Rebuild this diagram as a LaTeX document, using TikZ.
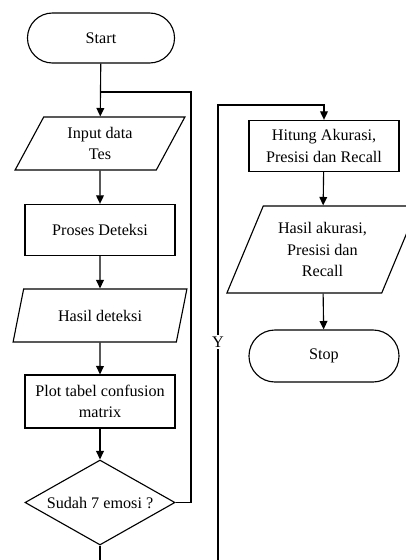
\documentclass[tikz,border=0pt]{standalone}
\usepackage{fontspec}
\setmainfont{Liberation Serif}
\usetikzlibrary{shapes.geometric,shapes.misc,arrows.meta}
\tikzset{
	terminal/.style={draw,rounded rectangle,minimum width=3.675cm,minimum height=1.25cm,inner sep=0pt},
	proses/.style={draw,rectangle,minimum width=3.75cm,minimum height=1.28cm,align=center,inner sep=0pt},
	io/.style={draw,trapezium,trapezium left angle=63,trapezium right angle=117,trapezium stretches=true,align=center,inner sep=0pt},
	keputusan/.style={draw,diamond,aspect=1.76,minimum width=3.75cm,minimum height=2.125cm,inner sep=0pt},
	panah/.style={-{Triangle[width=5.5pt,length=6pt]}}
}
\begin{document}
\begin{tikzpicture}[x=0.025cm,y=-0.025cm,line width=0.8pt,font=\fontsize{11.5}{15}\selectfont]
			\useasboundingbox (0,0) rectangle (406,560);
			\node[terminal] (start) at (101,38) {Start};
			\node[io,minimum width=4.25cm,minimum height=1.325cm] (input) at (100,143.5) {Input data\\Tes};
			\node[proses] (deteksi) at (100,230) {Proses Deteksi};
			\node[io,minimum width=4.35cm,minimum height=1.325cm] (hasil) at (100,315.5) {Hasil deteksi};
			\node[proses,minimum height=1.325cm] (plot) at (100,401.5) {Plot tabel confusion\\matrix};
			\node[keputusan] (cek) at (100,502.5) {Sudah 7 emosi ?};
			\node[proses] (hitung) at (324,146) {Hitung Akurasi,\\Presisi dan Recall};
			\node[io,minimum width=4.78cm,minimum height=2.175cm] (akurasi) at (322.5,249.5) {Hasil akurasi,\\Presisi dan\\Recall};
			\node[terminal,minimum width=3.75cm,minimum height=1.3cm] (stop) at (324,356) {Stop};
			
			\coordinate (gabung) at (100,92);
			\coordinate (balik) at (191,92);
			\coordinate (bawahkiri) at (100,560);
			\coordinate (bawahkanan) at (218,560);
			\coordinate (belok) at (218,105);
			
			\draw [panah] (start)--(input);
			\draw [panah] (input)--(deteksi);
			\draw [panah] (deteksi)--(hasil);
			\draw [panah] (hasil)--(plot);
			\draw [panah] (plot)--(cek);
			\draw (cek.east) -| (balik) -- (gabung);
			\draw (cek.south) -- (bawahkiri);
			\draw [panah] (bawahkanan) -- node[pos=0.479,fill=white,inner sep=1pt]{Y} (belok) -| (hitung.north);
			\draw [panah] (hitung)--(akurasi);
			\draw [panah] (akurasi)--(stop);
			\end{tikzpicture}
\end{document}
